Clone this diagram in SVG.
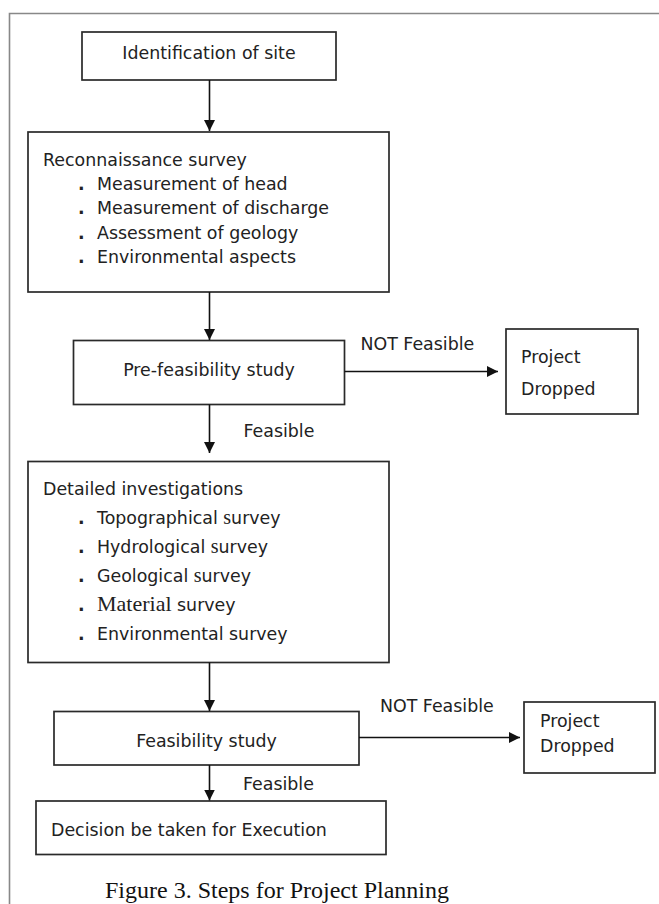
<svg xmlns="http://www.w3.org/2000/svg" width="659" height="904" viewBox="0 0 659 904">
<defs>
<marker id="ah" viewBox="0 0 10 10" refX="10" refY="5" markerWidth="11" markerHeight="11" markerUnits="userSpaceOnUse" orient="auto">
<path d="M0,0 L10,5 L0,10 Z" fill="#111"/>
</marker>
<style>
.box{fill:#fff;stroke:#2a2a2a;stroke-width:1.7}
.t{font-family:"DejaVu Sans",Verdana,sans-serif;font-size:17.4px;fill:#222}
.m{text-anchor:middle}
.b{font-family:"DejaVu Sans",sans-serif;font-size:17.4px;font-weight:bold;fill:#222}
.sr{font-family:"Liberation Serif","Times New Roman",serif}
.conn line{stroke:#111;stroke-width:1.6;marker-end:url(#ah)}
.frame{stroke:#888;stroke-width:1.6;fill:none}
.cap{font-family:"Liberation Serif","Times New Roman",serif;font-size:24px;fill:#111}
</style>
</defs>
<rect width="659" height="904" fill="#fff"/>
<path class="frame" d="M9.5,904 V13.5 H659"/>

<g id="n1">
<rect class="box" x="82" y="32" width="254" height="48"/>
<text class="t m" x="209" y="59">Identification of site</text>
</g>

<g id="n2">
<rect class="box" x="28" y="132" width="361" height="160"/>
<text class="t" x="43" y="166">Reconnaissance survey</text>
<text class="b" x="78" y="190">.</text><text class="t" x="97" y="190">Measurement of head</text>
<text class="b" x="78" y="214">.</text><text class="t" x="97" y="214">Measurement of discharge</text>
<text class="b" x="78" y="239">.</text><text class="t" x="97" y="239">Assessment of geology</text>
<text class="b" x="78" y="263">.</text><text class="t" x="97" y="263">Environmental aspects</text>
</g>

<g id="n3">
<rect class="box" x="73.5" y="340.5" width="271" height="64"/>
<text class="t m" x="209" y="376">Pre-feasibility study</text>
</g>

<g id="n4">
<rect class="box" x="506" y="329" width="132" height="85"/>
<text class="t" x="521" y="363">Project</text>
<text class="t" x="521" y="395">Dropped</text>
</g>

<g id="n5">
<rect class="box" x="28" y="461.5" width="361" height="201"/>
<text class="t" x="43" y="495">Detailed investigations</text>
<text class="b" x="78" y="524">.</text><text class="t" x="97" y="524">Topographical <tspan class="sr" font-size="20">s</tspan>urvey</text>
<text class="b" x="78" y="553">.</text><text class="t" x="97" y="553">Hydrological <tspan class="sr" font-size="20">s</tspan>urvey</text>
<text class="b" x="78" y="582">.</text><text class="t" x="97" y="582">Geological <tspan class="sr" font-size="20">s</tspan>urvey</text>
<text class="b" x="78" y="611">.</text><text class="t" x="97" y="611"><tspan class="sr" font-size="22">Material</tspan> survey</text>
<text class="b" x="78" y="640">.</text><text class="t" x="97" y="640">Environmental survey</text>
</g>

<g id="n6">
<rect class="box" x="54" y="711.5" width="305" height="53.5"/>
<text class="t m" x="206.5" y="747">Feasibility study</text>
</g>

<g id="n7">
<rect class="box" x="524" y="702" width="131" height="71"/>
<text class="t" x="540" y="727">Project</text>
<text class="t" x="540" y="752">Dropped</text>
</g>

<g id="n8">
<rect class="box" x="36" y="801" width="350" height="53.5"/>
<text class="t" x="51" y="836">Decision be taken for Execution</text>
</g>

<g id="connectors" class="conn">
<line x1="209.5" y1="80" x2="209.5" y2="131"/>
<line x1="209.5" y1="292" x2="209.5" y2="340"/>
<line x1="344.5" y1="371.5" x2="498" y2="371.5"/>
<line x1="209.5" y1="404.5" x2="209.5" y2="453"/>
<line x1="209.5" y1="662.5" x2="209.5" y2="711"/>
<line x1="359" y1="737.5" x2="520" y2="737.5"/>
<line x1="209.5" y1="765" x2="209.5" y2="800.5"/>
</g>

<g id="labels">
<text class="t" x="360.5" y="350">NOT Feasible</text>
<text class="t" x="243.5" y="437">Feasible</text>
<text class="t" x="380" y="712">NOT Feasible</text>
<text class="t" x="243" y="790">Feasible</text>
</g>

<text class="cap" x="105" y="898">Figure 3. Steps for Project Planning</text>
</svg>
